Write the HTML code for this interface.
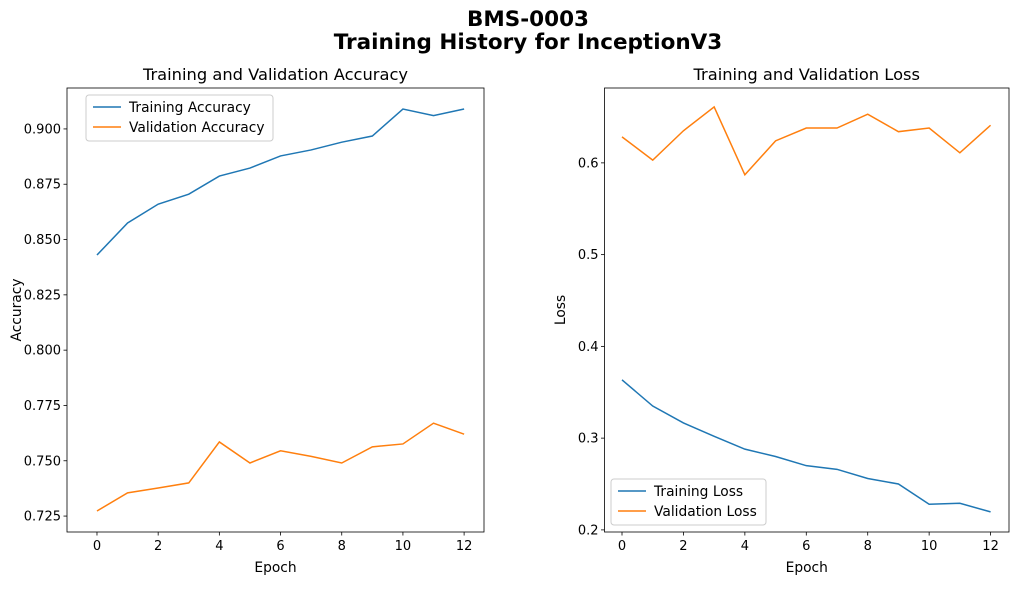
<!DOCTYPE html>
<html><head><meta charset="utf-8"><style>
body{margin:0;background:#fff;font-family:"DejaVu Sans","Liberation Sans",sans-serif;}
svg text{font-family:"DejaVu Sans","Liberation Sans",sans-serif;}
</style></head><body>
<svg id="c" width="1018" height="585" xmlns="http://www.w3.org/2000/svg">
<rect width="1018" height="585" fill="#fff"/>
<text x="528" y="26" text-anchor="middle" font-size="21.5" font-weight="bold">BMS-0003</text>
<text x="528" y="49" text-anchor="middle" font-size="21.5" font-weight="bold">Training History for InceptionV3</text>
</svg>
<script>
const epochs=[0,1,2,3,4,5,6,7,8,9,10,11,12];
const trainAcc=[0.843,0.8575,0.866,0.8705,0.8787,0.8823,0.8878,0.8905,0.894,0.8968,0.909,0.906,0.909];
const valAcc=[0.7273,0.7355,0.7377,0.740,0.7585,0.749,0.7545,0.752,0.749,0.7563,0.7576,0.767,0.762];
const trainLoss=[0.3635,0.335,0.3166,0.302,0.288,0.280,0.270,0.266,0.256,0.250,0.228,0.229,0.2196];
const valLoss=[0.6283,0.603,0.635,0.661,0.587,0.624,0.638,0.638,0.653,0.634,0.638,0.611,0.641];
const xTicks=[0,2,4,6,8,10,12];
const accTicks=[0.725,0.750,0.775,0.800,0.825,0.850,0.875,0.900];
const lossTicks=[0.2,0.3,0.4,0.5,0.6];
const NS="http://www.w3.org/2000/svg";
const svg=document.getElementById('c');
function el(t,a,p){const e=document.createElementNS(NS,t);for(const k in a)e.setAttribute(k,a[k]);(p||svg).appendChild(e);return e;}
function panel(o){
  const g=el('g',{});
  
  
  const X=v=>o.L+(v-o.xmin)/(o.xmax-o.xmin)*(o.R-o.L);
  const Y=v=>o.B-(v-o.ymin)/(o.ymax-o.ymin)*(o.B-o.T);
  o.series.forEach(s=>{
    const p=el('polyline',{points:s.d.map((v,i)=>X(epochs[i])+','+Y(v)).join(' '),fill:'none',stroke:s.c,'stroke-width':1.5},g);
    
    
  });
  const fr=el('rect',{x:o.L,y:o.T,width:o.R-o.L,height:o.B-o.T,fill:'none',stroke:'#000','stroke-width':0.8},g);
  
  
  xTicks.forEach(t=>{const x=X(t);el('line',{x1:x,x2:x,y1:o.B,y2:o.B+3.5,stroke:'#000','stroke-width':0.8},g);
    const tx=el('text',{x:x,y:o.B+18,'text-anchor':'middle','font-size':13},g);tx.textContent=t;
    
    });
  o.yt.forEach(t=>{const y=Y(t);el('line',{x1:o.L-3.5,x2:o.L,y1:y,y2:y,stroke:'#000','stroke-width':0.8},g);
    const tx=el('text',{x:o.L-6,y:y+4.5,'text-anchor':'end','font-size':13},g);tx.textContent=t.toFixed(o.dec);
    
    });
  const ti=el('text',{x:(o.L+o.R)/2,y:o.T-8,'text-anchor':'middle','font-size':16.3},g);ti.textContent=o.title;
  
  
  const xl=el('text',{x:(o.L+o.R)/2,y:o.B+40,'text-anchor':'middle','font-size':13.8},g);xl.textContent='Epoch';
  
  
  const yl=el('text',{x:0,y:0,'text-anchor':'middle','font-size':13.8,transform:`translate(${o.ylx},${(o.T+o.B)/2}) rotate(-90)`},g);yl.textContent=o.ylabel;
  
  
  const lg=el('g',{},g);
  
  
  el('rect',{x:o.lx,y:o.ly,width:o.lw,height:46,rx:3,fill:'#fff',stroke:'#ccc','stroke-width':1},lg);
  o.series.forEach((s,i)=>{const yy=o.ly+12+i*20;
    el('line',{x1:o.lx+7,x2:o.lx+35,y1:yy,y2:yy,stroke:s.c,'stroke-width':1.5},lg);
    const t=el('text',{x:o.lx+43,y:yy+5,'font-size':13.8},lg);t.textContent=s.label;
    
    });
}
panel({name:'accuracy-chart',L:67,R:484,T:88,B:532,xmin:-0.98,xmax:12.65,ymin:0.7178,ymax:0.9185,yt:accTicks,dec:3,
 title:'Training and Validation Accuracy',ylabel:'Accuracy',ylx:21,lx:86,ly:95,lw:187,
 series:[{d:trainAcc,c:'#1f77b4',label:'Training Accuracy',n:'training-accuracy-line'},{d:valAcc,c:'#ff7f0e',label:'Validation Accuracy',n:'validation-accuracy-line'}]});
panel({name:'loss-chart',L:604.5,R:1009,T:88,B:532,xmin:-0.57,xmax:12.6,ymin:0.1977,ymax:0.6816,yt:lossTicks,dec:1,
 title:'Training and Validation Loss',ylabel:'Loss',ylx:565,lx:611,ly:479,lw:155,
 series:[{d:trainLoss,c:'#1f77b4',label:'Training Loss',n:'training-loss-line'},{d:valLoss,c:'#ff7f0e',label:'Validation Loss',n:'validation-loss-line'}]});
</script>
</body></html>
